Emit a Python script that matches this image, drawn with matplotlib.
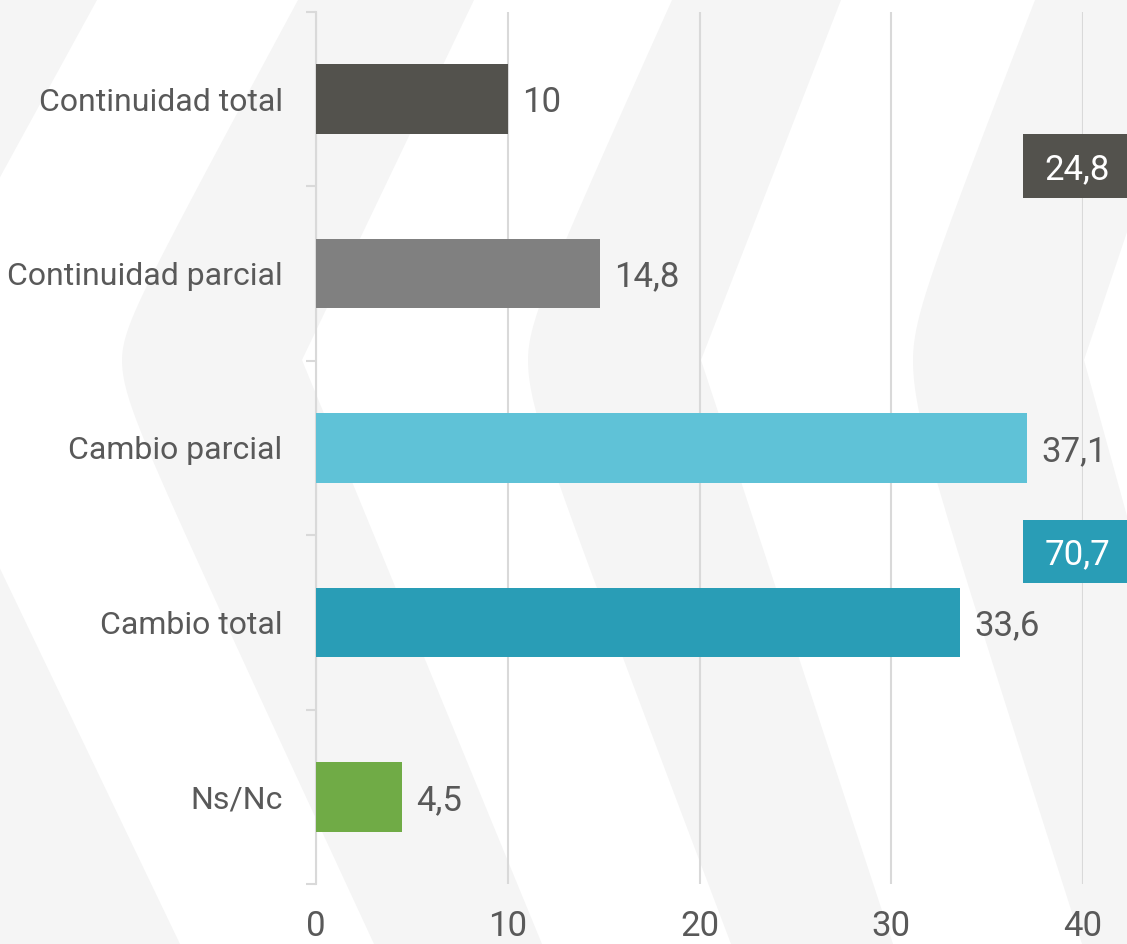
import numpy as np
import matplotlib
matplotlib.use('Agg')
import matplotlib.pyplot as plt
from matplotlib.patches import Polygon, Rectangle
from matplotlib import font_manager

# datos
categorias = ['Continuidad total', 'Continuidad parcial', 'Cambio parcial', 'Cambio total', 'Ns/Nc']
valores = [10, 14.8, 37.1, 33.6, 4.5]
colores = ['#53524d', '#808080', '#5fc2d7', '#299db6', '#70ab46']
totales = [24.8, 70.7]
totales_colores = ['#53524d', '#299db6']
xticks = [0, 10, 20, 30, 40]

W, H = 1127, 944
TXT = '#595959'

nombres = {f.name for f in font_manager.fontManager.ttflist}
fuente = 'Roboto' if 'Roboto' in nombres else 'DejaVu Sans'
plt.rcParams['font.family'] = [fuente, 'DejaVu Sans']


def franja(ax_izq, ax_der, ytop=0, yapex=360, ybot=H, r=20):
    "franja decorativa en forma de chevron (coordenadas en px)"
    (tl, al, bl), (tr, ar, br) = ax_izq, ax_der
    ys = np.linspace(ytop, ybot, 200)
    xs_izq = []
    for y in ys:
        dy = y - yapex
        if dy < 0:
            shift, D = tl - al, yapex - ytop
        else:
            shift, D = bl - al, ybot - yapex
        k = np.sqrt((shift + r) ** 2 - r ** 2) / D
        xs_izq.append(al + np.sqrt((k * dy) ** 2 + r ** 2) - r)
    izq = list(zip(xs_izq, ys))
    der = [(tr, ytop), (ar, yapex), (br, ybot)]
    pts = izq + der[::-1]
    return [(x / W, 1 - y / H) for x, y in pts]


fig = plt.figure(figsize=(W / 100, H / 100), dpi=100)
fig.patch.set_facecolor('white')

# fondo con franjas grises
bandas = [
    ((-85, -285, -10), (97, -100, 180)),
    ((298, 122, 374), (474, 302, 542)),
    ((672, 528, 731), (841, 701, 893)),
    ((1035, 913, 1082), (1205, 1084, 1245)),
]
for izq, der in bandas:
    fig.patches.append(Polygon(franja(izq, der), closed=True, transform=fig.transFigure,
                               facecolor='#f5f5f5', edgecolor='none', zorder=-10))

ax = fig.add_axes([316 / W, 1 - 884 / H, 767 / W, 872 / H])
ax.set_facecolor('none')

y = np.arange(len(categorias))
ax.barh(y, valores, height=0.4, color=colores, zorder=3)

for i, v in enumerate(valores):
    ax.annotate(f'{v:g}'.replace('.', ','), (v, i), xytext=(10, 0), textcoords='offset points',
                ha='left', va='center_baseline', fontsize=25, color=TXT)

# cajas con totales agrupados
box_y = [0.384, 2.593]
for t, c, yy in zip(totales, totales_colores, box_y):
    ax.add_patch(Rectangle((36.87, yy - 0.183), 8, 0.366, facecolor=c, edgecolor='none',
                           clip_on=False, zorder=4))
    ax.text(39.7, yy, f'{t:g}'.replace('.', ','), ha='center', va='center_baseline',
            fontsize=25, color='white', zorder=5)

ax.set_xlim(0, 40)
ax.set_ylim(4.5, -0.5)
ax.set_xticks(xticks)
ax.set_xticklabels([str(t) for t in xticks])
ax.set_yticks(y)
ax.set_yticklabels(categorias)
ax.set_yticks(np.arange(-0.5, 5, 1), minor=True)

ax.grid(axis='x', color='#d9d9d9', lw=1.5, zorder=0)
ax.set_axisbelow(True)
for s in ['top', 'right', 'bottom']:
    ax.spines[s].set_visible(False)
ax.spines['left'].set_color('#d9d9d9')
ax.spines['left'].set_linewidth(1.5)

ax.tick_params(axis='x', length=0, pad=19, labelsize=25, labelcolor=TXT)
ax.tick_params(axis='y', which='major', length=0, pad=24, labelsize=23, labelcolor=TXT)
ax.tick_params(axis='y', which='minor', length=7.5, width=1.5, color='#d9d9d9')

fig.savefig('out.png', dpi=100)
